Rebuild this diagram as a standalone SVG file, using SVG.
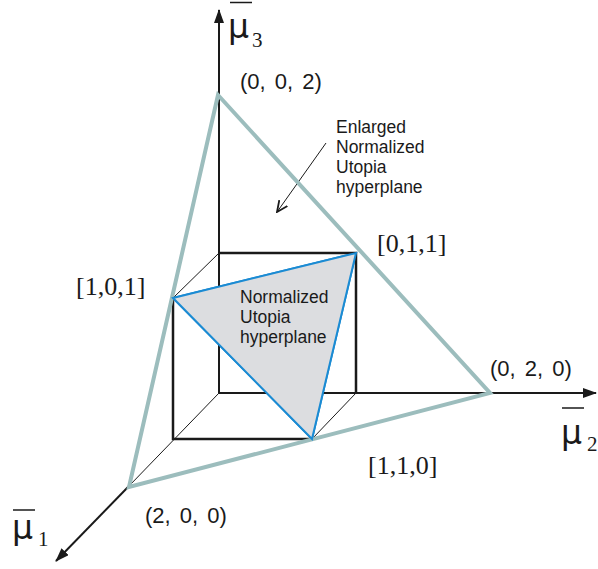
<svg xmlns="http://www.w3.org/2000/svg" width="598" height="569" viewBox="0 0 598 569">
<defs>
<style>
.ax{stroke:#1a1a1a;stroke-width:2;fill:none}
.thin{stroke:#1a1a1a;stroke-width:1;fill:none}
.cube{stroke:#1a1a1a;stroke-width:2.5;fill:none}
.big{stroke:#9cbdbd;stroke-width:4;fill:none;stroke-linejoin:miter}
.blue{stroke:#1b8bd3;stroke-width:2;fill:#dcdde0;stroke-linejoin:miter}
.sans{font-family:"Liberation Sans",Arial,sans-serif;fill:#1a1a1a}
.serif{font-family:"Liberation Serif","Times New Roman",serif;fill:#1a1a1a}
.pt{font-size:22px;word-spacing:3px}
.br{font-size:26px}
.note{font-size:17.5px}
.mu{font-family:"DejaVu Sans",sans-serif;font-size:33px;fill:#1a1a1a}
.sub{font-size:21px}
</style>
<marker id="ah" viewBox="0 0 14 10" refX="13" refY="5" markerWidth="14" markerHeight="10" markerUnits="userSpaceOnUse" orient="auto">
<path d="M0,0 L14,5 L0,10 Z" fill="#1a1a1a"/>
</marker>
<marker id="oh" viewBox="0 0 12 12" refX="11" refY="6" markerWidth="12" markerHeight="12" markerUnits="userSpaceOnUse" orient="auto">
<path d="M0,1 L11,6 L0,11" fill="none" stroke="#1a1a1a" stroke-width="1.8"/>
</marker>
</defs>
<rect width="598" height="569" fill="#fff"/>

<g id="normalized-plane">
<polygon class="blue" points="173,298 356,253 312,439" stroke="none"/>
</g>

<g id="connectors">
<line class="ax" x1="219" y1="393" x2="219" y2="10" marker-end="url(#ah)"/>
<line class="ax" x1="219" y1="393" x2="596" y2="393" marker-end="url(#ah)"/>
<line class="thin" x1="219" y1="393" x2="129" y2="486"/>
<line class="ax" x1="129" y1="486" x2="56" y2="561" marker-end="url(#ah)"/>
<polyline class="cube" points="219,253 356,253 356,393"/>
<polyline class="cube" points="173,298 173,439 312,439"/>
<line class="thin" x1="173" y1="298" x2="219" y2="253"/>
<line class="thin" x1="312" y1="439" x2="356" y2="393"/>
<line class="thin" x1="326" y1="143" x2="277" y2="212" stroke-width="1.8" marker-end="url(#oh)"/>
</g>

<g id="enlarged-plane">
<polygon class="big" points="218,95 490,393 129,487"/>
</g>

<g id="normalized-edges">
<polygon class="blue" points="173,298 356,253 312,439" fill="none"/>
</g>

<g id="axis-mu3">
<line x1="230" y1="2.5" x2="252" y2="2.5" stroke="#1a1a1a" stroke-width="1.5"/>
<text class="mu" x="228" y="38">μ</text>
<text class="serif sub" x="252" y="47">3</text>
</g>
<g id="axis-mu2">
<line x1="562" y1="408" x2="584" y2="408" stroke="#1a1a1a" stroke-width="1.5"/>
<text class="mu" x="561" y="444">μ</text>
<text class="serif sub" x="587" y="451">2</text>
</g>
<g id="axis-mu1">
<line x1="13" y1="510" x2="35" y2="510" stroke="#1a1a1a" stroke-width="1.5"/>
<text class="mu" x="12" y="539">μ</text>
<text class="serif sub" x="38" y="546">1</text>
</g>

<g id="node-002"><text class="sans pt" x="240" y="89">(0, 0, 2)</text></g>
<g id="node-020"><text class="sans pt" x="490" y="376">(0, 2, 0)</text></g>
<g id="node-200"><text class="sans pt" x="145" y="523">(2, 0, 0)</text></g>

<g id="node-011"><text class="serif br" x="377" y="252">[0,1,1]</text></g>
<g id="node-101"><text class="serif br" x="76" y="295">[1,0,1]</text></g>
<g id="node-110"><text class="serif br" x="368" y="474">[1,1,0]</text></g>

<g id="label-enlarged" class="sans note">
<text x="336" y="133">Enlarged</text>
<text x="336" y="153">Normalized</text>
<text x="336" y="173">Utopia</text>
<text x="336" y="193">hyperplane</text>
</g>
<g id="label-normalized" class="sans note">
<text x="240" y="303">Normalized</text>
<text x="240" y="323">Utopia</text>
<text x="240" y="343">hyperplane</text>
</g>
</svg>
